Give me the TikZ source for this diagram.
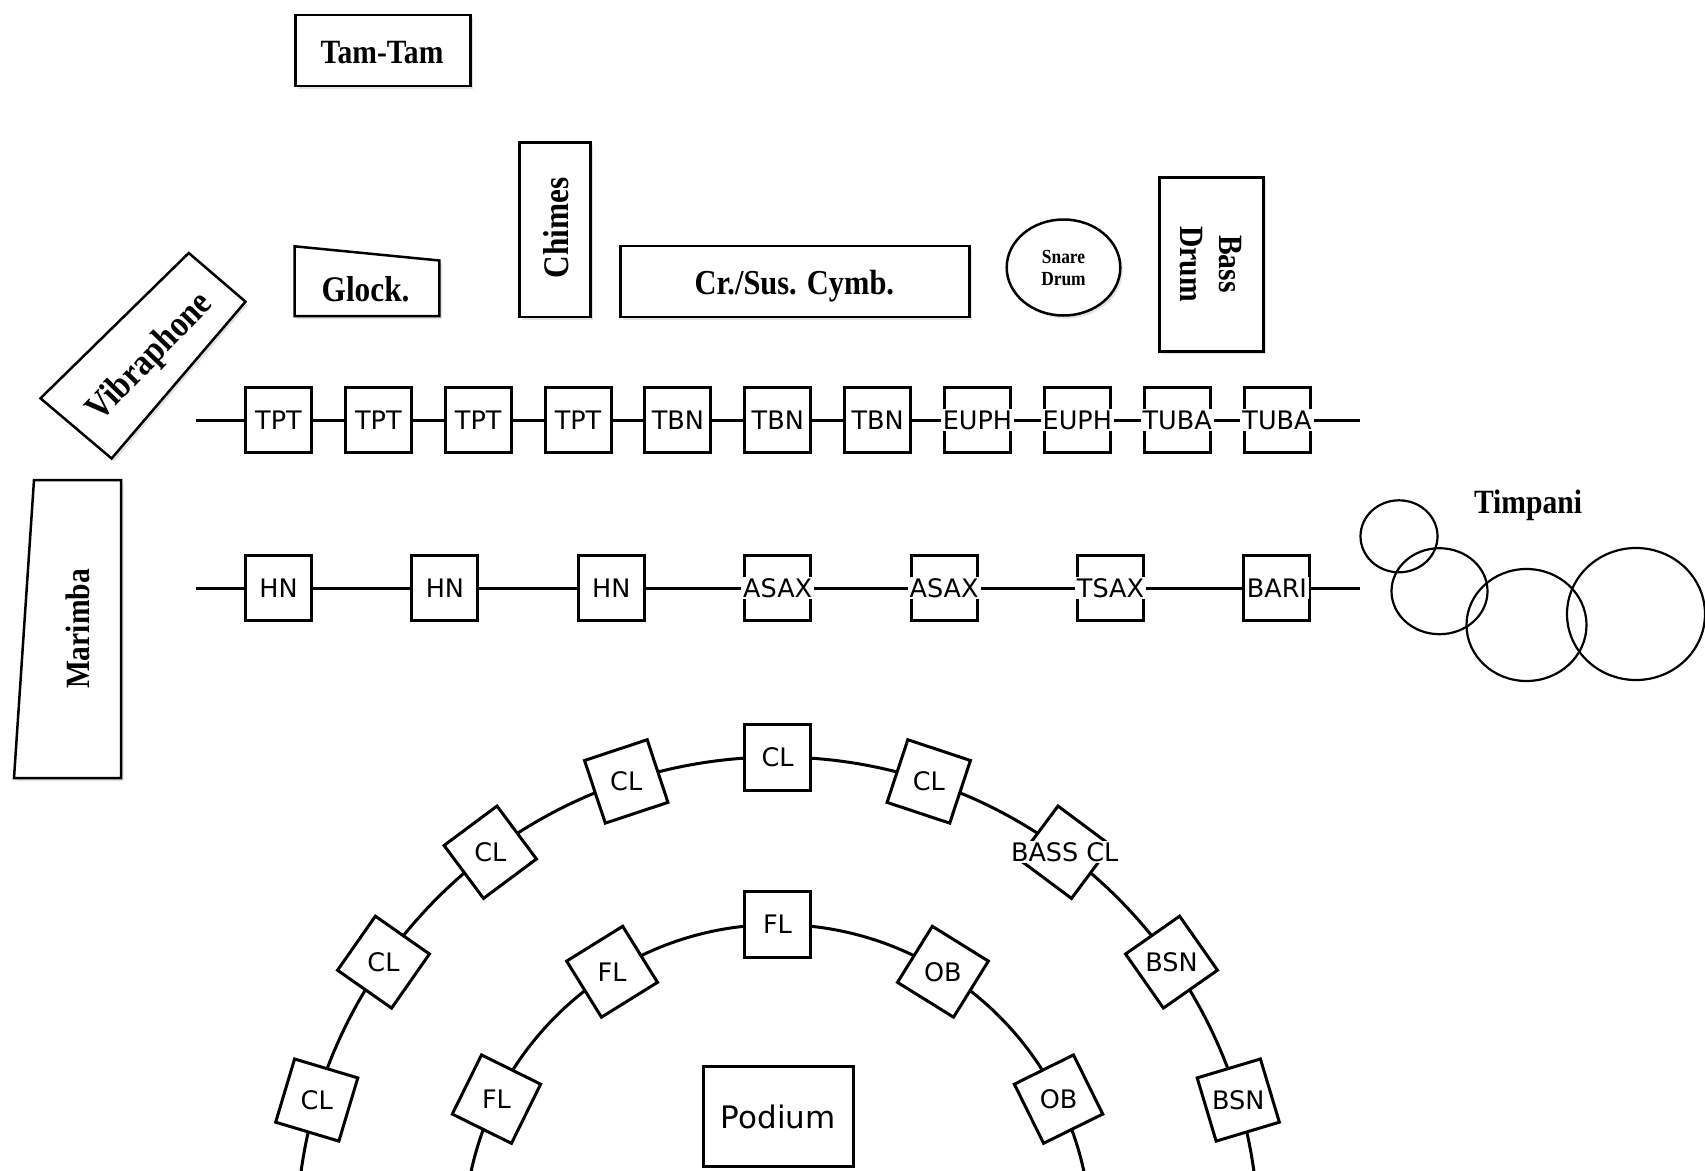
\documentclass[tikz,border=0pt]{standalone}
\usepackage{fontspec}
\setmainfont{DejaVu Sans}
\newfontfamily\percfont[FakeStretch=0.87]{Liberation Serif}
\usetikzlibrary{shadows}
\tikzset{
  softshadow/.style={drop shadow={opacity=0.22, shadow xshift=2.5pt, shadow yshift=-3pt}},
  percbox/.style={draw, line width=2.5pt, fill=white, inner sep=0pt, softshadow},
  percline/.style={draw, line width=2.5pt, fill=white, line join=miter, softshadow},
  timp/.style={draw, line width=2.2pt},
  ptext/.style={font=\percfont\bfseries\fontsize{#1}{#1}\selectfont, inner sep=0pt},
  rowbox/.style={draw, line width=3pt, fill=white, minimum width=66pt, minimum height=65pt, inner sep=0pt},
  arcbox/.style={draw, line width=3pt, fill=white, minimum width=66pt, minimum height=66pt, inner sep=0pt},
  lbl/.style={fill=white, inner xsep=2pt, inner ysep=1.5pt, font=\fontsize{25.5}{28}\selectfont},
  conn/.style={line width=3pt}
}
\begin{document}
\begin{tikzpicture}[x=1pt,y=-1pt]
\path[use as bounding box] (0,0) rectangle (1705,1170);

% ---------- percussion ----------
\node[percbox, minimum width=175pt, minimum height=71pt] (tamtam) at (383,50.7) {};
\node[ptext=34, anchor=base] (tamtamt) at (382,63.3) {Tam-Tam};

\node[percbox, minimum width=71pt, minimum height=174.5pt] (chimes) at (554.8,229.5) {};
\node[ptext=36, anchor=base, rotate=90] (chimest) at (568,228) {Chimes};

\coordinate (g1) at (294.5,246.3);
\coordinate (g2) at (439.4,260.5);
\coordinate (g3) at (439.4,316);
\coordinate (g4) at (294.5,316);
\path[percline] (g1) -- (g2) -- (g3) -- (g4) -- cycle;
\node[ptext=36, anchor=base] (glockt) at (365.6,301.7) {Glock.};

\node[percbox, minimum width=349pt, minimum height=71pt] (cymb) at (795,281.7) {};
\node[ptext=35, anchor=base] (cymbt) at (794.4,294) {Cr./Sus. Cymb.};

\coordinate (snare) at (1063.5,267.5);
\path[percline] (snare) ellipse [x radius=56.8pt, y radius=48pt];
\node[font=\percfont\bfseries\fontsize{20}{21.7}\selectfont, align=center, inner sep=0pt] (snaret) at (1063.5,268) {Snare\\Drum};

\node[percbox, minimum width=104pt, minimum height=174pt] (bass) at (1211.7,264.3) {};
\node[font=\percfont\bfseries\fontsize{34}{38.3}\selectfont, align=center, inner sep=0pt, rotate=-90] (basst) at (1211,264) {Bass\\Drum};

\coordinate (v1) at (188.8,253);
\coordinate (v2) at (245.5,301.7);
\coordinate (v3) at (111.6,458.5);
\coordinate (v4) at (40.5,398.3);
\path[percline] (v1) -- (v2) -- (v3) -- (v4) -- cycle;
\node[ptext=37, anchor=base, rotate=46] (vibt) at (157,364) {Vibraphone};

\coordinate (m1) at (34,480);
\coordinate (m2) at (121,480);
\coordinate (m3) at (121,778);
\coordinate (m4) at (14,778);
\path[percline] (m1) -- (m2) -- (m3) -- (m4) -- cycle;
\node[ptext=34, anchor=base, rotate=90] (marimbat) at (89.3,629) {Marimba};

% timpani
\coordinate (tp1) at (1399,536.3);
\coordinate (tp2) at (1439.5,591.2);
\coordinate (tp3) at (1526.5,625);
\coordinate (tp4) at (1636,614);
\draw[timp] (tp1) ellipse [x radius=38.5pt, y radius=36pt];
\draw[timp] (tp2) ellipse [x radius=48pt, y radius=43pt];
\draw[timp] (tp3) ellipse [x radius=60pt, y radius=56pt];
\draw[timp] (tp4) ellipse [x radius=69pt, y radius=66pt];
\node[ptext=34, anchor=base] (timpt) at (1528,513.3) {Timpani};

% ---------- brass row ----------
\coordinate (aL) at (196,420);
\coordinate (aR) at (1360,420);
\foreach \i in {0,...,10}
  \node[rowbox] (a\i) at ({278.5+99.85*\i},420) {};
\draw[conn] (aL) -- (a0) -- (a1) -- (a2) -- (a3) -- (a4) -- (a5) -- (a6) -- (a7) -- (a8) -- (a9) -- (a10) -- (aR);
\foreach \i/\t in {0/TPT,1/TPT,2/TPT,3/TPT,4/TBN,5/TBN,6/TBN,7/EUPH,8/EUPH,9/TUBA,10/TUBA}
  \node[lbl] (al\i) at (a\i) {\t};

% ---------- horn / sax row ----------
\coordinate (bL) at (196,588);
\coordinate (bR) at (1360,588);
\foreach \i in {0,...,6}
  \node[rowbox] (b\i) at ({278.5+166.4*\i},588) {};
\draw[conn] (bL) -- (b0) -- (b1) -- (b2) -- (b3) -- (b4) -- (b5) -- (b6) -- (bR);
\foreach \i/\t in {0/HN,1/HN,2/HN,3/ASAX,4/ASAX,5/TSAX,6/BARI}
  \node[lbl] (bl\i) at (b\i) {\t};

% ---------- arcs ----------
\coordinate (ctr) at (777.5,1238);
\begin{scope}
  \clip (0,0) rectangle (1705,1170);
  \draw[conn] (ctr) circle [radius=481pt];
  \draw[conn] (ctr) circle [radius=313.5pt];
\end{scope}
\foreach \ang/\t/\nm in {163.33/CL/o1,145/CL/o2,126.67/CL/o3,108.33/CL/o4,90/CL/o5,71.67/CL/o6,53.33/BASS CL/o7,35/BSN/o8,16.67/BSN/o9}{
  \node[arcbox, rotate=\ang-90] (\nm) at ({777.5+481*cos(\ang)},{1238-481*sin(\ang)}) {};
  \node[lbl] (\nm t) at (\nm) {\t};
}
\foreach \ang/\t/\nm in {153.7/FL/i1,121.85/FL/i2,90/FL/i3,58.15/OB/i4,26.3/OB/i5}{
  \node[arcbox, rotate=\ang-90] (\nm) at ({777.5+313.5*cos(\ang)},{1238-313.5*sin(\ang)}) {};
  \node[lbl] (\nm t) at (\nm) {\t};
}

% podium
\node[draw, line width=3pt, fill=white, minimum width=150pt, minimum height=100pt, inner sep=0pt, font=\fontsize{31}{34}\selectfont] (podium) at (778.3,1116.5) {Podium};
\end{tikzpicture}
\end{document}
